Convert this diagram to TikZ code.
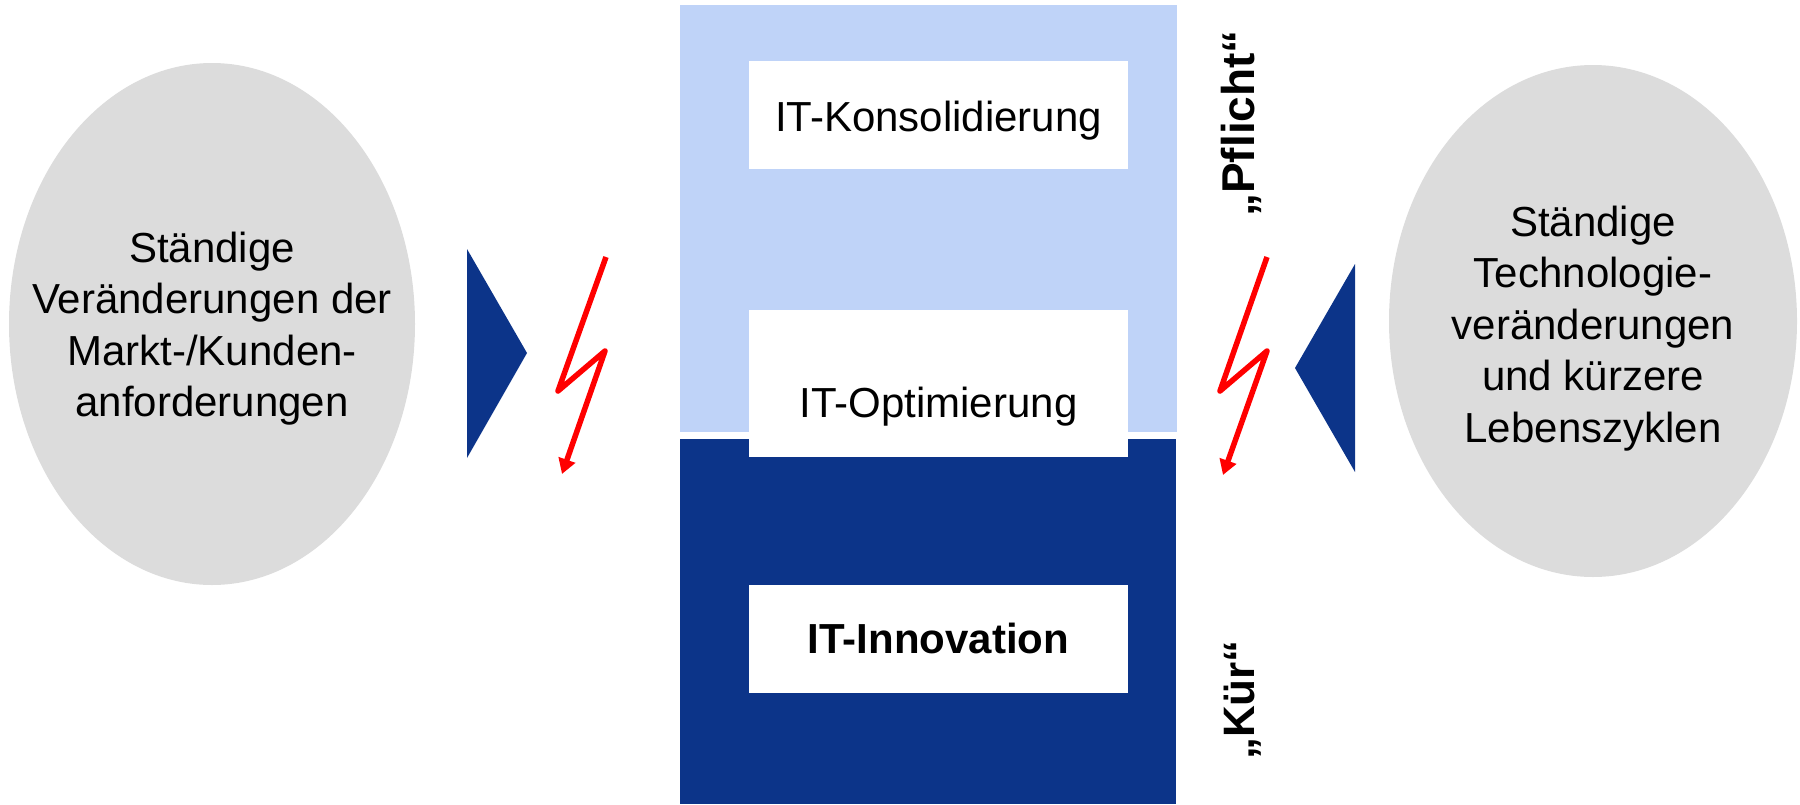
\documentclass[tikz,border=0pt]{standalone}
\usepackage{fontspec}
\setmainfont{Liberation Sans}
\usetikzlibrary{shapes.geometric,arrows.meta}
\definecolor{lightblu}{RGB}{191,211,248}
\definecolor{darkblu}{RGB}{12,52,137}
\definecolor{ellgray}{RGB}{220,220,220}
\begin{document}
\begin{tikzpicture}[x=1pt,y=-1pt,
  zone/.style={rectangle,draw=none,inner sep=0pt,outer sep=0pt},
  whitebox/.style={rectangle,fill=white,draw=none,inner sep=0pt,minimum width=379pt},
  boxtext/.style={anchor=base,inner sep=0pt,font=\fontsize{42}{50}\selectfont},
  blob/.style={ellipse,fill=ellgray,draw=none,inner sep=0pt},
  blobtext/.style={align=center,inner sep=0pt,font=\fontsize{42}{51.5}\selectfont},
  sidetext/.style={rotate=90,anchor=base,inner sep=0pt,font=\bfseries\fontsize{44}{50}\selectfont},
  wedge/.style={fill=darkblu,draw=none},
  bolt/.style={draw=red,line width=5.5pt,line join=round,-{Triangle[width=17pt,length=15pt]}}]
\useasboundingbox (0,0) rectangle (1800,804);
% zones
\node[zone,fill=lightblu,minimum width=497pt,minimum height=427pt] (pflichtzone) at (928.5,218.5) {};
\node[zone,fill=darkblu,minimum width=496pt,minimum height=365pt] (kuerzone) at (928,621.5) {};
% white boxes
\node[whitebox,minimum height=108pt] (konsbox) at (938.5,115) {};
\node[whitebox,minimum height=147pt] (optbox) at (938.5,383.5) {};
\node[whitebox,minimum height=108pt] (innobox) at (938.5,639) {};
\node[boxtext] (konstext) at (938.5,131) {IT-Konsolidierung};
\node[boxtext] (opttext) at (938.5,417) {IT-Optimierung};
\node[boxtext,font=\bfseries\fontsize{42}{50}\selectfont] (innotext) at (938.5,653) {IT-Innovation};
% ellipses
\node[blob,minimum width=406pt,minimum height=522pt] (leftblob) at (212,324) {};
\node[blob,minimum width=408pt,minimum height=512pt] (rightblob) at (1593,321) {};
\node[blobtext] (lefttext) at (212,328.5) {Ständige\\Veränderungen der\\Markt-/Kunden-\\anforderungen};
\node[blobtext] (righttext) at (1593,328.5) {Ständige\\Technologie-\\veränderungen\\und kürzere\\Lebenszyklen};
% wedges
\fill[wedge] (467,249) -- (527,353) -- (467,458) -- cycle;
\fill[wedge] (1355,264) -- (1295,368) -- (1355,472) -- cycle;
% bolts
\coordinate (la) at (606,257);
\coordinate (lb) at (558,391);
\coordinate (lc) at (605,351);
\coordinate (ld) at (562,474);
\draw[bolt] (la) -- (lb) -- (lc) -- (ld);
\coordinate (ra) at (1267,257);
\coordinate (rb) at (1220,391);
\coordinate (rc) at (1267,351);
\coordinate (rd) at (1223,475);
\draw[bolt] (ra) -- (rb) -- (rc) -- (rd);
% side labels
\node[sidetext,font=\bfseries\fontsize{46}{50}\selectfont] (pflicht) at (1254,123.5) {„Pflicht“};
\node[sidetext] (kuer) at (1254,700) {„Kür“};
\end{tikzpicture}
\end{document}
